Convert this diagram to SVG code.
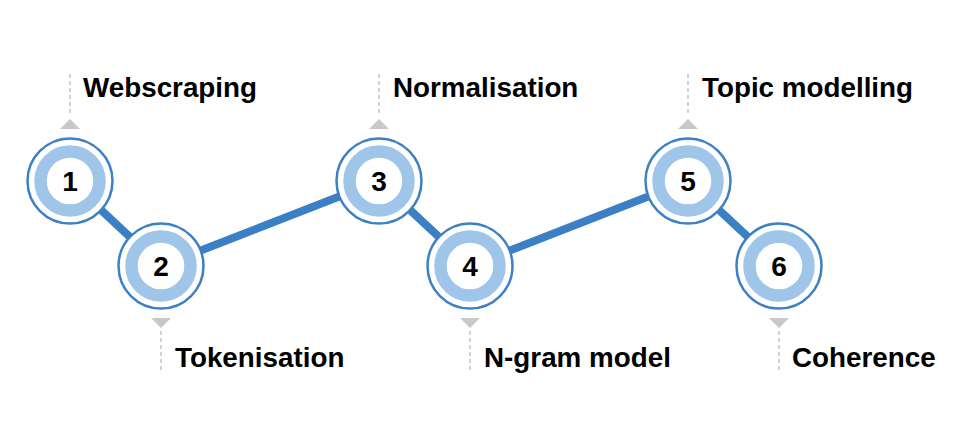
<svg xmlns="http://www.w3.org/2000/svg" width="969" height="427" viewBox="0 0 969 427">
<style>
.conn{stroke:#3b7fc4;stroke-width:8;fill:none}
.outer{fill:#fff;stroke:#3d80c4;stroke-width:2.5}
.ring{fill:none;stroke:#9fc5e8;stroke-width:12.5}
.num{font-family:"Liberation Sans",Arial,sans-serif;font-weight:bold;font-size:28px;fill:#000;text-anchor:middle}
.lbl{font-family:"Liberation Sans",Arial,sans-serif;font-weight:bold;font-size:27.8px;fill:#000}
.dash{stroke:#c4c4c4;stroke-width:1.5;stroke-dasharray:4 3;fill:none}
.tri{fill:#c8c8c8}
</style>
<rect width="969" height="427" fill="#fff"/>
<g id="connectors">
<line class="conn" x1="70" y1="181" x2="161" y2="266"/>
<line class="conn" x1="161" y1="266" x2="379" y2="181"/>
<line class="conn" x1="379" y1="181" x2="470" y2="266"/>
<line class="conn" x1="470" y1="266" x2="688" y2="181"/>
<line class="conn" x1="688" y1="181" x2="779" y2="266"/>
</g>
<g id="node1">
<line class="dash" x1="70" y1="74" x2="70" y2="116"/>
<polygon class="tri" points="60,129 80,129 70,119"/>
<circle class="outer" cx="70" cy="181" r="42.5"/>
<circle class="ring" cx="70" cy="181" r="29.5"/>
<text class="num" x="70" y="191">1</text>
<text class="lbl" x="83" y="97">Webscraping</text>
</g>
<g id="node2">
<line class="dash" x1="161" y1="331" x2="161" y2="373"/>
<polygon class="tri" points="151,318 171,318 161,328"/>
<circle class="outer" cx="161" cy="266" r="42.5"/>
<circle class="ring" cx="161" cy="266" r="29.5"/>
<text class="num" x="161" y="276">2</text>
<text class="lbl" x="175" y="367">Tokenisation</text>
</g>
<g id="node3">
<line class="dash" x1="379" y1="74" x2="379" y2="116"/>
<polygon class="tri" points="369,129 389,129 379,119"/>
<circle class="outer" cx="379" cy="181" r="42.5"/>
<circle class="ring" cx="379" cy="181" r="29.5"/>
<text class="num" x="379" y="191">3</text>
<text class="lbl" x="393" y="97">Normalisation</text>
</g>
<g id="node4">
<line class="dash" x1="470" y1="331" x2="470" y2="373"/>
<polygon class="tri" points="460,318 480,318 470,328"/>
<circle class="outer" cx="470" cy="266" r="42.5"/>
<circle class="ring" cx="470" cy="266" r="29.5"/>
<text class="num" x="470" y="276">4</text>
<text class="lbl" x="484" y="367">N-gram model</text>
</g>
<g id="node5">
<line class="dash" x1="688" y1="74" x2="688" y2="116"/>
<polygon class="tri" points="678,129 698,129 688,119"/>
<circle class="outer" cx="688" cy="181" r="42.5"/>
<circle class="ring" cx="688" cy="181" r="29.5"/>
<text class="num" x="688" y="191">5</text>
<text class="lbl" x="702" y="97">Topic modelling</text>
</g>
<g id="node6">
<line class="dash" x1="779" y1="331" x2="779" y2="373"/>
<polygon class="tri" points="769,318 789,318 779,328"/>
<circle class="outer" cx="779" cy="266" r="42.5"/>
<circle class="ring" cx="779" cy="266" r="29.5"/>
<text class="num" x="779" y="276">6</text>
<text class="lbl" x="792" y="367">Coherence</text>
</g>
</svg>
